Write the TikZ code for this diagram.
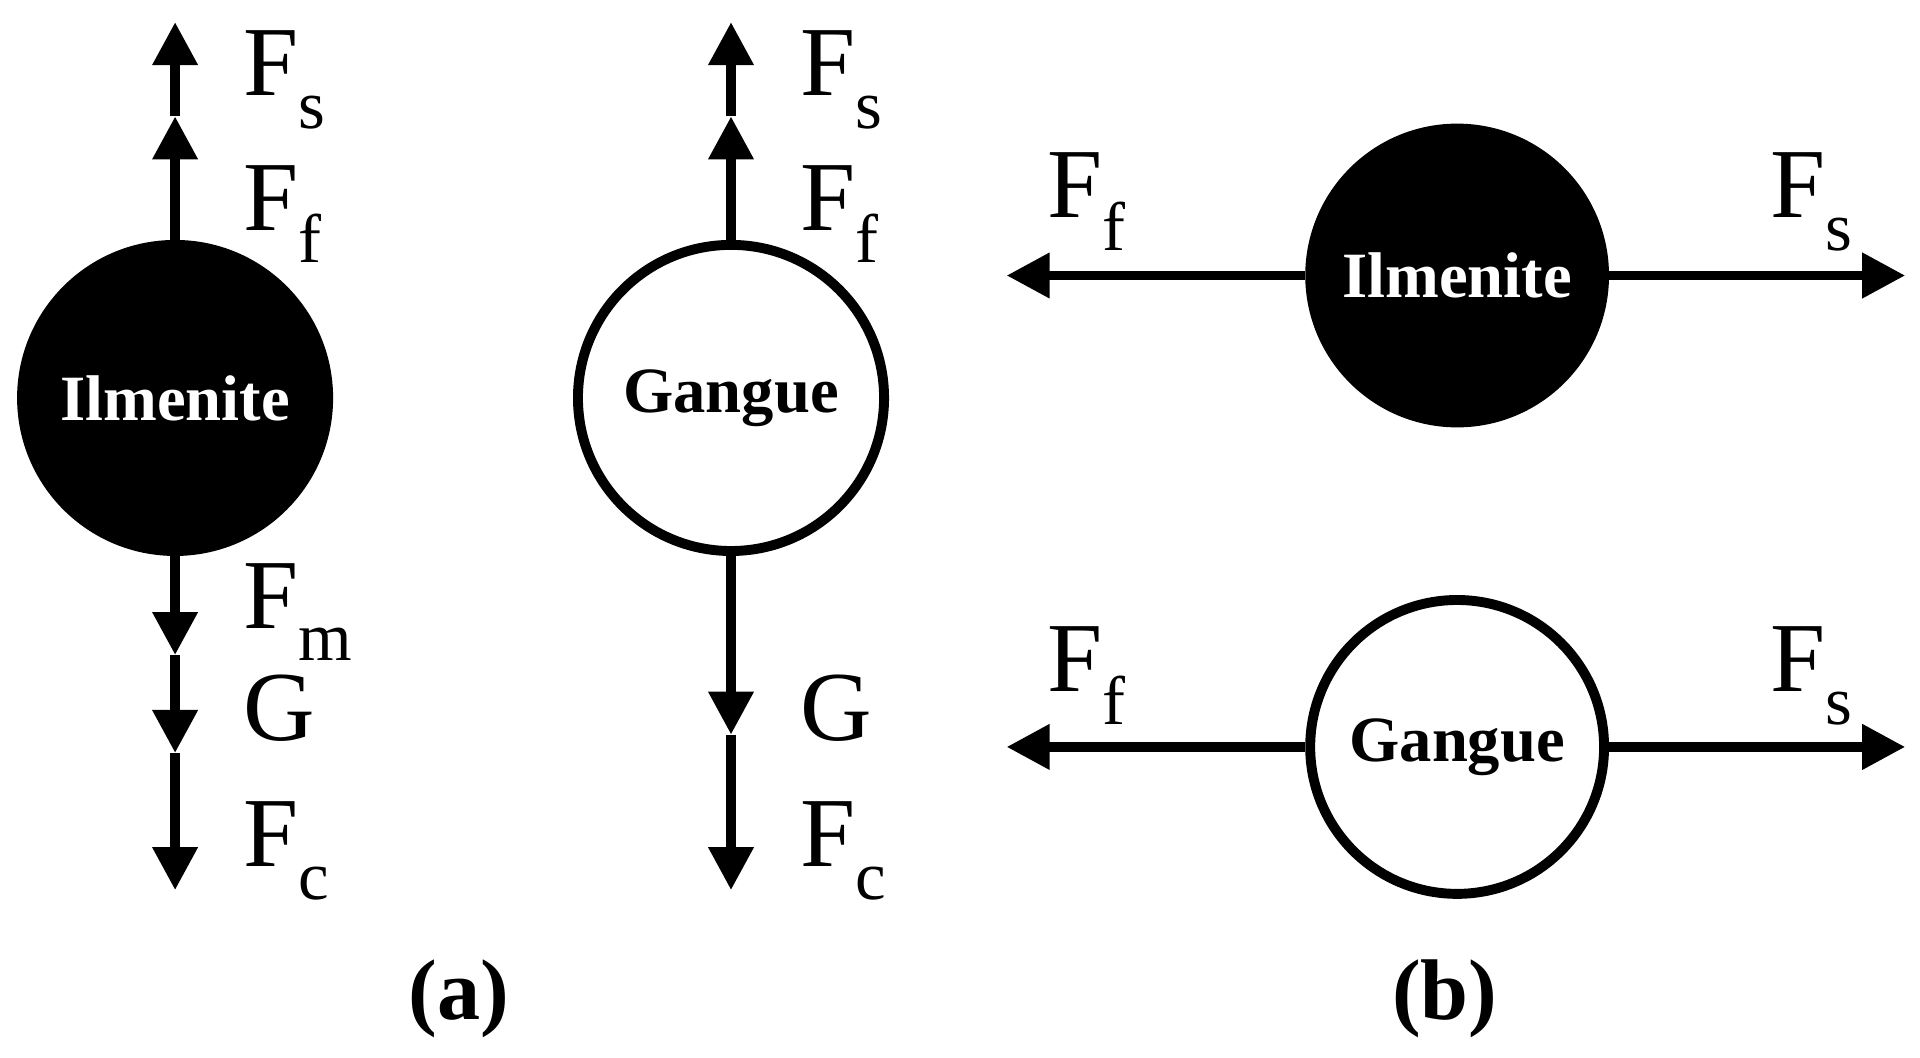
\documentclass[tikz,border=0pt]{standalone}
\usepackage{fontspec}
\setmainfont{Liberation Serif}
\usetikzlibrary{arrows.meta}
\newcommand{\lbl}[2]{F\raisebox{-0.33em}{\fontsize{16}{16}\selectfont #2}}
\begin{document}
\begin{tikzpicture}[x=0.01cm,y=-0.01cm,
  ar/.style={line width=2.3pt,-{Triangle[length=10pt,width=10pt]}},
  ball/.style={circle,draw=black,line width=2.3pt,minimum size=#1*0.01cm,inner sep=0pt,font=\fontsize{15}{15}\selectfont\bfseries},
  lab/.style={anchor=base west,inner sep=0pt,font=\fontsize{23}{23}\selectfont},
  sublab/.style={anchor=base,inner sep=0pt,font=\fontsize{20}{20}\selectfont\bfseries}]
\useasboundingbox (0,0) rectangle (1568,864);
% panel a ilmenite
\node[ball=250,fill=black,text=white] (i1) at (143,325) {Ilmenite};
\coordinate (i1u1) at (143,95); \coordinate (i1u2) at (143,18);
\coordinate (i1d1) at (143,535); \coordinate (i1d2) at (143,615); \coordinate (i1d3) at (143,727);
\draw[ar] (i1.north) -- (i1u1); \draw[ar] (i1u1) -- (i1u2);
\draw[ar] (i1.south) -- (i1d1); \draw[ar] (i1d1) -- (i1d2); \draw[ar] (i1d2) -- (i1d3);
\node[lab] (a1) at (198,78) {\lbl{}{s}};
\node[lab] (a2) at (198,188) {\lbl{}{f}};
\node[lab] (a3) at (198,513) {\lbl{}{m}};
\node[lab] (a4) at (198,605) {G};
\node[lab] (a5) at (198,708) {\lbl{}{c}};
% panel a gangue
\node[ball=250,fill=white] (g1) at (597,325) {Gangue};
\coordinate (g1u1) at (597,95); \coordinate (g1u2) at (597,18);
\coordinate (g1d1) at (597,600); \coordinate (g1d2) at (597,727);
\draw[ar] (g1.north) -- (g1u1); \draw[ar] (g1u1) -- (g1u2);
\draw[ar] (g1.south) -- (g1d1); \draw[ar] (g1d1) -- (g1d2);
\node[lab] (b1) at (653,78) {\lbl{}{s}};
\node[lab] (b2) at (653,188) {\lbl{}{f}};
\node[lab] (b4) at (653,605) {G};
\node[lab] (b5) at (653,708) {\lbl{}{c}};
\node[sublab] (ca) at (375,833) {(a)};
% panel b
\node[ball=240,fill=black,text=white] (i2) at (1190,225) {Ilmenite};
\coordinate (i2l) at (822,225); \coordinate (i2r) at (1556,225);
\draw[ar] (i2.west) -- (i2l); \draw[ar] (i2.east) -- (i2r);
\node[lab] (c1) at (855,178) {\lbl{}{f}};
\node[lab] (c2) at (1445,178) {\lbl{}{s}};
\node[ball=240,fill=white] (g2) at (1190,610) {Gangue};
\coordinate (g2l) at (822,610); \coordinate (g2r) at (1556,610);
\draw[ar] (g2.west) -- (g2l); \draw[ar] (g2.east) -- (g2r);
\node[lab] (d1) at (855,565) {\lbl{}{f}};
\node[lab] (d2) at (1445,565) {\lbl{}{s}};
\node[sublab] (cb) at (1180,833) {(b)};
\end{tikzpicture}
\end{document}
